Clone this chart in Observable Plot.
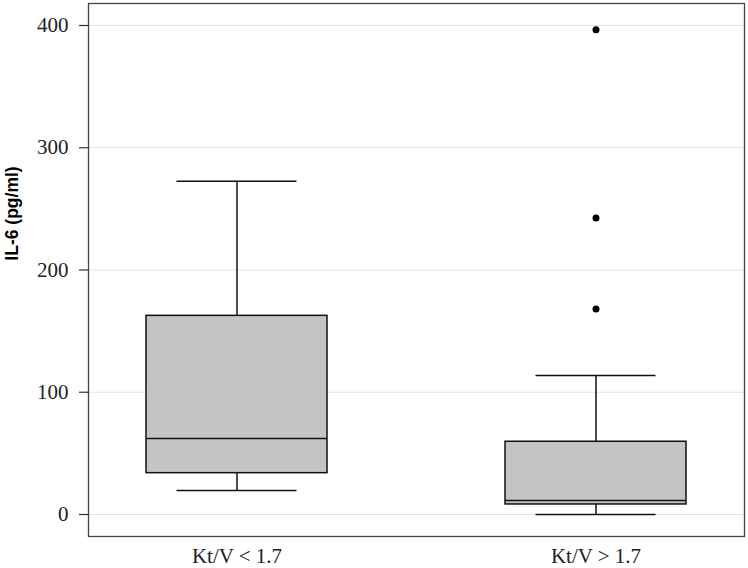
<!DOCTYPE html>
<html>
<head>
<meta charset="utf-8">
<script src="https://cdn.jsdelivr.net/npm/d3@7"></script>
<script src="https://cdn.jsdelivr.net/npm/@observablehq/plot@0.6"></script>
<style>
  html, body { margin: 0; padding: 0; background: #fff; }
</style>
</head>
<body>
<div id="chart"></div>
<script>
const groups = ["Kt/V < 1.7", "Kt/V > 1.7"];
const whiskerLow = [19.6, 0];
const q1 = [33.8, 8.2];
const median = [62.2, 11.5];
const q3 = [162.5, 59.5];
const whiskerHigh = [272.6, 113.7];
const outlierGroup = ["Kt/V > 1.7", "Kt/V > 1.7", "Kt/V > 1.7"];
const outlierValue = [396.5, 242.5, 168];
const yTicks = [0, 100, 200, 300, 400];

const boxes = groups.map((g, i) => ({
  group: g, lo: whiskerLow[i], q1: q1[i], med: median[i], q3: q3[i], hi: whiskerHigh[i]
}));
const outliers = outlierGroup.map((g, i) => ({group: g, value: outlierValue[i]}));

const serif = "'Liberation Serif', 'Times New Roman', serif";

const chart = Plot.plot({
  width: 748,
  height: 568,
  marginLeft: 88,
  marginRight: 4,
  marginTop: 3,
  marginBottom: 32,
  style: {background: "#fff", overflow: "visible"},
  x: {domain: groups, paddingInner: 0.497, paddingOuter: 0.16, label: null},
  y: {domain: [-18, 418], label: null},
  marks: [
    Plot.gridY(yTicks, {stroke: "#e2e2e2", strokeOpacity: 1, strokeWidth: 1.2}),
    Plot.axisY(yTicks, {
      tickSize: 9, tickPadding: 11, stroke: "#333", strokeWidth: 1.2,
      fontSize: 21, fontFamily: serif, fill: "#222",
      tickFormat: d3.format("d"),
      label: "IL-6 (pg/ml)", labelAnchor: "center", labelArrow: "none", labelOffset: 83
    }),
    Plot.axisX({
      tickSize: 0, tickPadding: 12, fontSize: 21, fontFamily: serif, fill: "#222", label: null
    }),
    Plot.ruleX(boxes, {x: "group", y1: "lo", y2: "q1", stroke: "#111", strokeWidth: 1.5}),
    Plot.ruleX(boxes, {x: "group", y1: "q3", y2: "hi", stroke: "#111", strokeWidth: 1.5}),
    Plot.tickY(boxes, {x: "group", y: "lo", insetLeft: 30.5, insetRight: 30.5, stroke: "#111", strokeWidth: 1.5}),
    Plot.tickY(boxes, {x: "group", y: "hi", insetLeft: 30.5, insetRight: 30.5, stroke: "#111", strokeWidth: 1.5}),
    Plot.barY(boxes, {x: "group", y1: "q1", y2: "q3", fill: "#c4c4c4", stroke: "#111", strokeWidth: 1.5}),
    Plot.tickY(boxes, {x: "group", y: "med", stroke: "#111", strokeWidth: 1.5}),
    Plot.dot(outliers, {x: "group", y: "value", r: 3.5, fill: "#000", stroke: "none"}),
    Plot.frame({stroke: "#444", strokeWidth: 1.3})
  ]
});

// style and position the y-axis label
d3.select(chart).selectAll("[aria-label='y-axis label'] text")
  .style("font-family", "'Liberation Sans', Arial, sans-serif")
  .style("font-size", "17.5px")
  .style("font-weight", "bold")
  .attr("fill", "#000");
d3.select(chart).selectAll("[aria-label='y-axis label']")
  .each(function () {
    const g = d3.select(this);
    const t = g.attr("transform");
    // move label up to be centred around y≈213
    g.attr("transform", (t ? t + " " : "") + "translate(0,0)");
  });
d3.select(chart).selectAll("[aria-label='y-axis label'] text")
  .each(function () {
    const el = d3.select(this);
    const tr = el.attr("transform") || "";
    const m = tr.match(/translate\(([-\d.]+),([-\d.]+)\)/);
    if (m) el.attr("transform", tr.replace(m[0], `translate(${m[1]},213)`));
  });

document.getElementById("chart").appendChild(chart);
</script>
</body>
</html>
